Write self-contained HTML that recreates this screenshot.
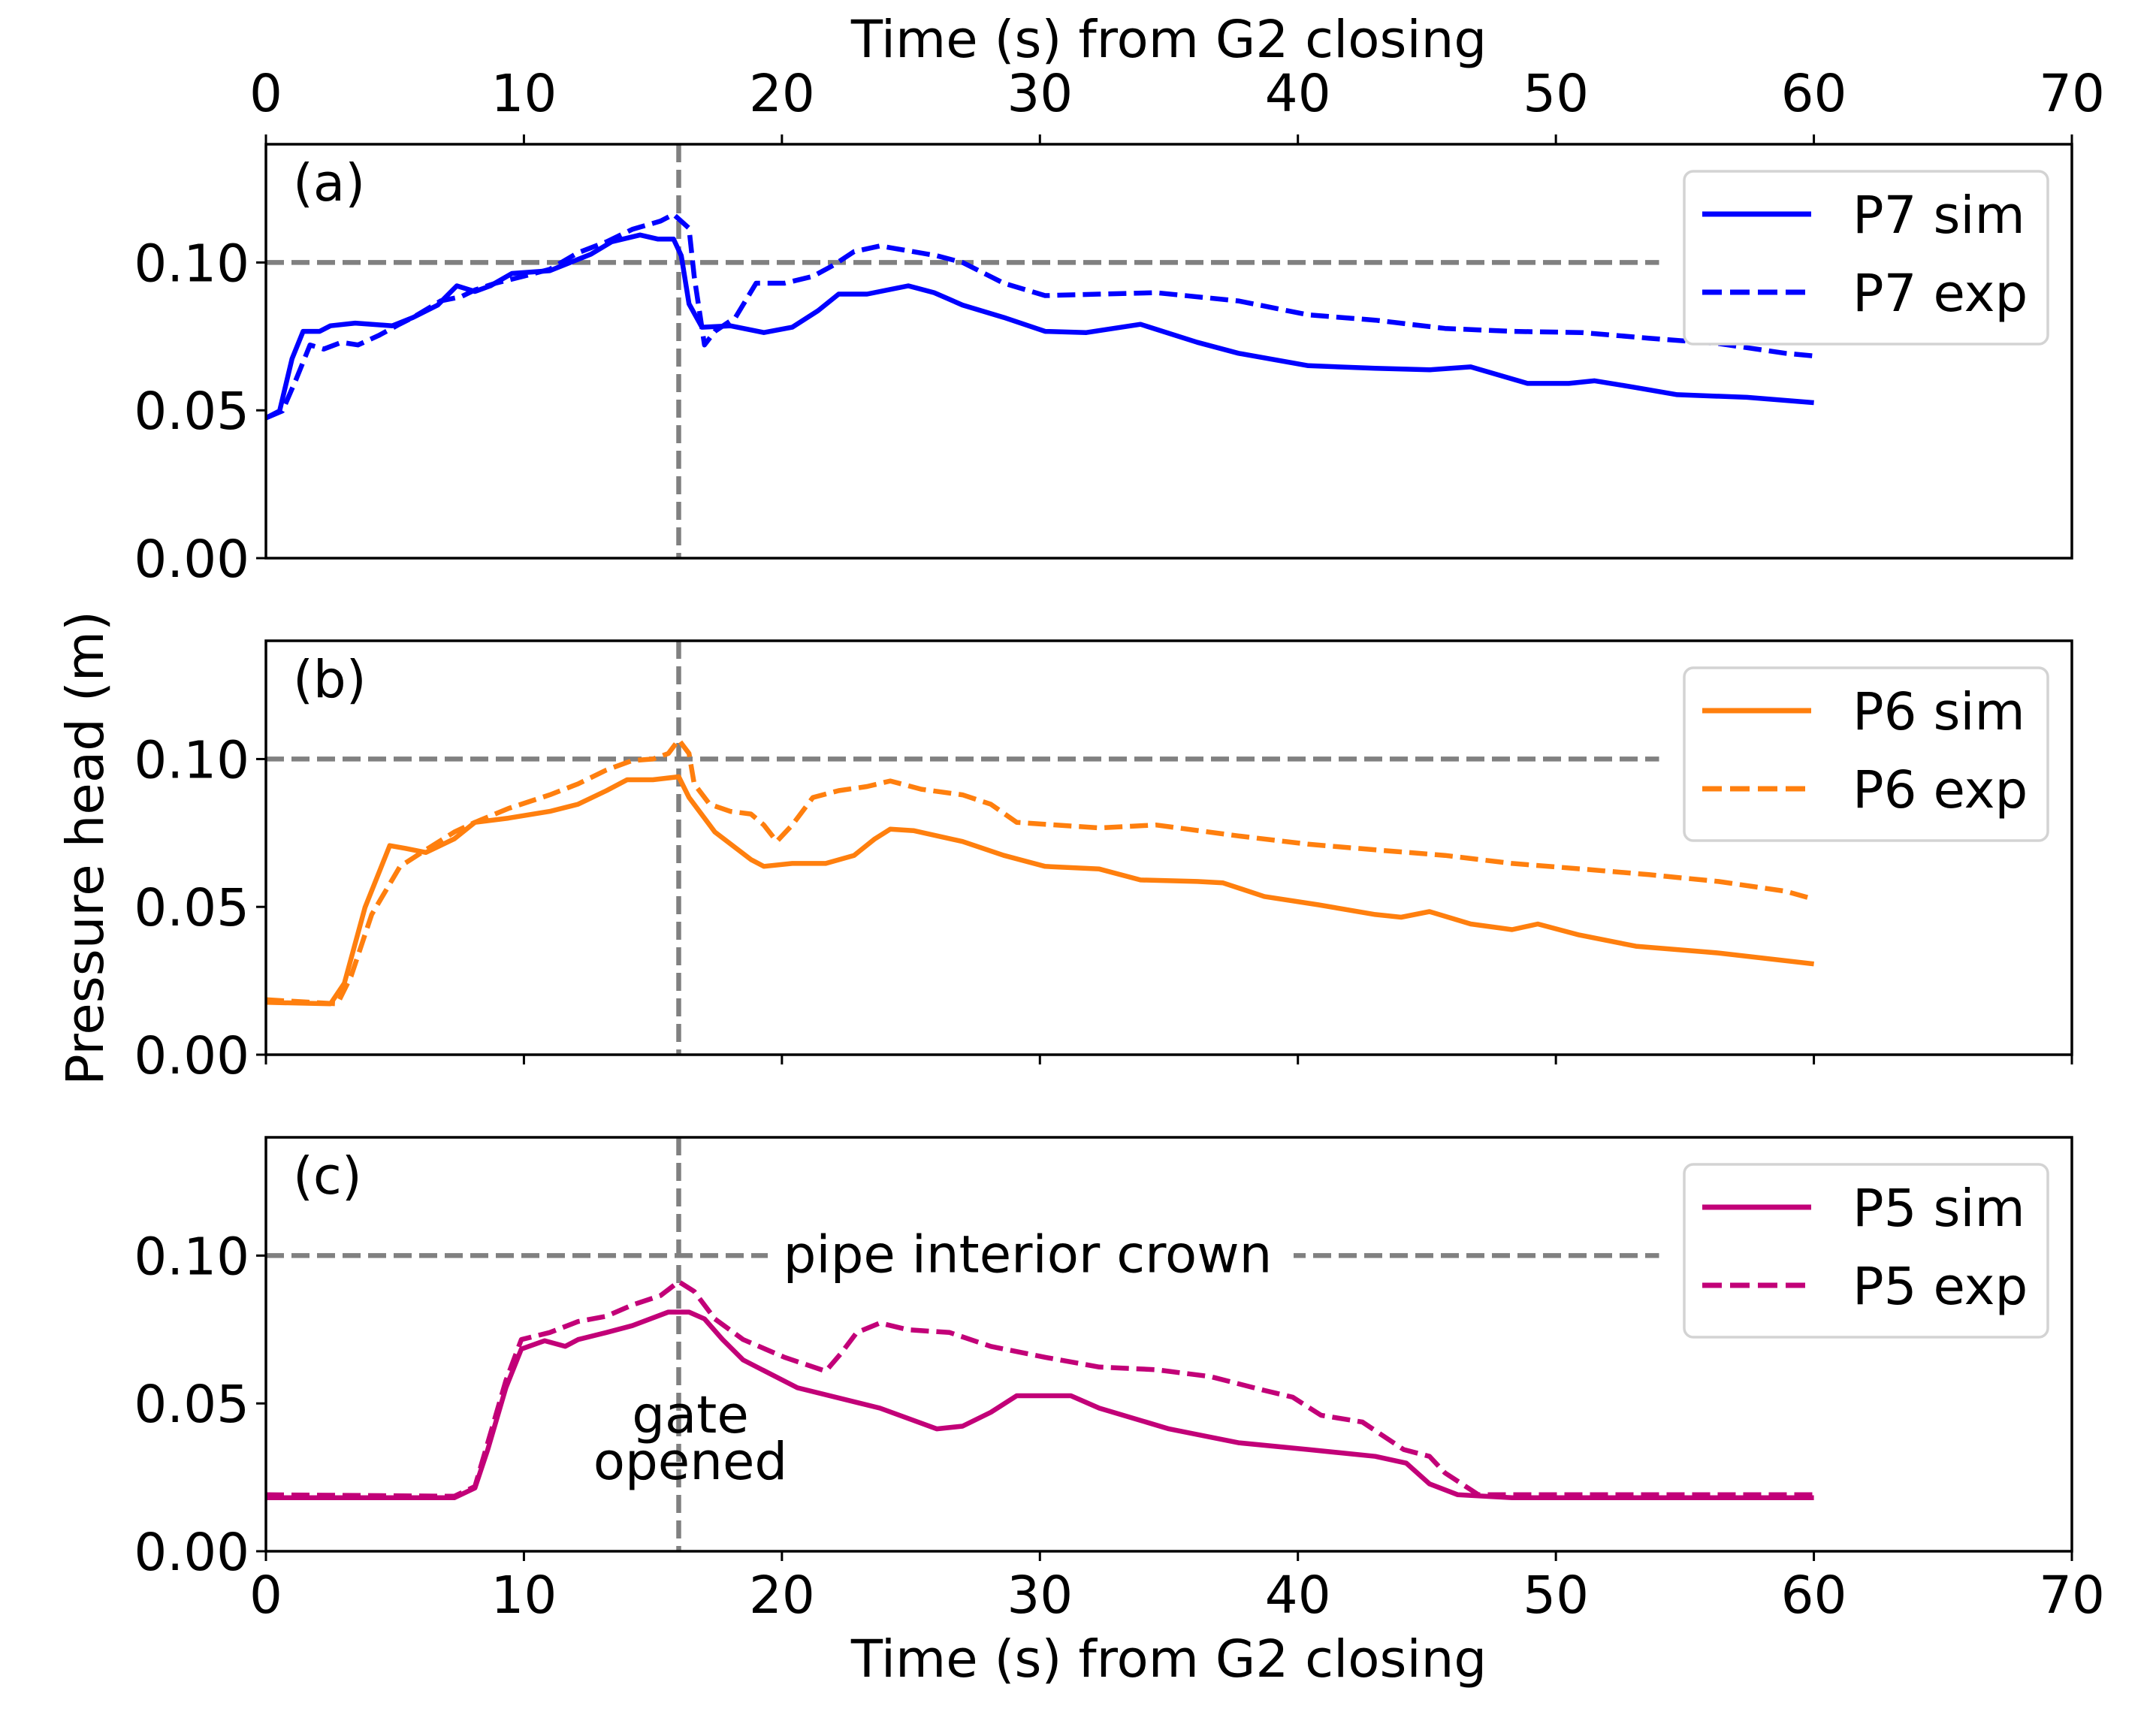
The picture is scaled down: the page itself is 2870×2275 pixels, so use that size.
<!DOCTYPE html>
<html><head><meta charset="utf-8"><style>
body{margin:0;background:#fff}
svg{display:block;font-family:"DejaVu Sans","Liberation Sans",sans-serif}
</style></head><body>
<svg id="chart" width="2870" height="2275" viewBox="0 0 2870 2275" xmlns="http://www.w3.org/2000/svg"></svg>
<script>
const xTicks=[0,10,20,30,40,50,60,70];
const yTicks=[0,0.05,0.10];
const yTickLabels=["0.00","0.05","0.10"];
const gateTime=16;
const crownLevel=0.10;
const crownEnd=54;
const p7SimT=[0,0.53,1.01,1.44,2.08,2.5,3.46,4.9,5.7,6.66,7.4,8.1,8.7,9.54,11.0,12.6,13.4,14.5,15.2,15.8,16.1,16.4,16.9,18.0,19.3,20.4,21.4,22.2,23.3,24.9,25.9,27.0,28.6,30.2,31.8,33.9,36.1,37.7,40.4,43.0,45.1,46.7,48.9,50.5,51.5,53.1,54.7,57.4,60];
const p7SimV=[0.0474,0.0498,0.0674,0.0767,0.0767,0.0786,0.0795,0.0786,0.0814,0.0856,0.0921,0.0902,0.0921,0.0963,0.0972,0.1028,0.107,0.1093,0.1079,0.1079,0.1023,0.0860,0.0781,0.0786,0.0763,0.0781,0.0837,0.0893,0.0893,0.0921,0.0898,0.0856,0.0814,0.0767,0.0763,0.0791,0.0730,0.0693,0.0651,0.0642,0.0637,0.0647,0.0591,0.0591,0.0600,0.0577,0.0553,0.0544,0.0526];
const p7ExpT=[0,0.64,1.17,1.71,2.24,2.93,3.57,4.37,5.17,5.7,6.77,7.56,8.1,8.9,9.97,11.0,12.1,13.2,14.2,15.3,15.8,16.4,16.6,17.0,17.4,18.2,19.0,20.1,21.2,22.0,22.8,23.8,24.4,26.0,27.0,28.6,30.2,32.3,34.5,37.7,40.4,43.0,45.7,48.3,51.0,53.6,56.3,58.9,60];
const p7ExpV=[0.0474,0.0498,0.0605,0.0721,0.0707,0.0730,0.0721,0.0753,0.0791,0.0814,0.0870,0.0884,0.0907,0.093,0.0953,0.0977,0.1033,0.107,0.1112,0.114,0.1163,0.1116,0.0953,0.0721,0.0767,0.0814,0.093,0.093,0.0953,0.0991,0.1037,0.1056,0.1047,0.1023,0.1,0.093,0.0888,0.0893,0.0898,0.0870,0.0823,0.0805,0.0777,0.0767,0.0763,0.0744,0.0726,0.0693,0.0684];
const p6SimT=[0,2.5,3.04,3.84,4.8,5.4,6.2,7.3,8.1,9.4,11.0,12.1,13.2,14.0,15.0,16.0,16.4,17.4,18.8,19.3,20.4,21.7,22.8,23.6,24.2,25.1,27.0,28.6,30.2,32.3,33.9,36.1,37.1,38.7,40.8,43.0,44.0,45.1,46.7,48.3,49.3,50.9,53.1,56.3,60];
const p6SimV=[0.0177,0.0172,0.0242,0.0498,0.0707,0.0698,0.0684,0.0730,0.0786,0.08,0.0823,0.0847,0.0893,0.0930,0.093,0.0940,0.0870,0.0753,0.066,0.0637,0.0647,0.0647,0.0674,0.0730,0.0763,0.0758,0.0721,0.0674,0.0637,0.0628,0.0591,0.0586,0.0581,0.0535,0.0507,0.0474,0.0465,0.0484,0.0442,0.0423,0.0442,0.0405,0.0367,0.0344,0.0307];
const p6ExpT=[0,2.77,3.3,4.1,5.2,6.2,7.3,8.1,9.4,11.0,12.1,13.2,14.2,15.0,15.6,16.0,16.4,16.6,17.2,18.0,18.8,19.3,19.8,20.4,21.2,22.2,23.3,24.2,25.4,27.0,28.1,29.1,32.3,34.5,37.7,40.4,43.0,45.7,48.3,51.0,53.6,56.3,58.9,60];
const p6ExpV=[0.0186,0.0172,0.0265,0.0474,0.0637,0.0693,0.0753,0.0786,0.0833,0.0879,0.0916,0.0963,0.0995,0.1,0.1019,0.1065,0.1019,0.0916,0.0847,0.0823,0.0814,0.0777,0.0721,0.0777,0.0870,0.0893,0.0907,0.0926,0.0898,0.0879,0.0847,0.0786,0.0767,0.0777,0.0740,0.0712,0.0693,0.0674,0.0647,0.0628,0.0609,0.0586,0.0553,0.0526];
const p5SimT=[0,7.3,8.1,8.6,9.3,9.9,10.8,11.6,12.1,13.2,14.2,15.6,16.4,17.0,17.7,18.5,20.6,23.8,26.0,27.0,28.1,29.1,31.2,32.3,35.0,37.7,40.4,43.0,44.2,45.1,46.2,48.3,60];
const p5SimV=[0.0181,0.0181,0.0214,0.0344,0.0553,0.0684,0.0712,0.0693,0.0716,0.0740,0.0763,0.0809,0.0809,0.0786,0.0716,0.0647,0.0553,0.0484,0.0414,0.0423,0.0470,0.0526,0.0526,0.0484,0.0414,0.0367,0.0344,0.0321,0.0298,0.0228,0.0191,0.0181,0.0181];
const p5ExpT=[0,7.3,8.1,8.6,9.3,9.9,11.0,12.1,13.2,14.2,15.3,16.0,16.6,17.4,18.5,20.1,21.7,22.3,22.9,23.8,24.9,26.5,28.1,30.2,32.3,34.5,36.6,38.7,39.8,40.9,42.5,44.1,45.1,45.7,47.0,48.3,60];
const p5ExpV=[0.0191,0.0186,0.0219,0.0367,0.0577,0.0716,0.0740,0.0777,0.0795,0.0833,0.0865,0.0912,0.0879,0.0786,0.0716,0.0656,0.0609,0.0670,0.0740,0.0772,0.0749,0.0740,0.0693,0.0656,0.0623,0.0614,0.0591,0.0544,0.0521,0.0460,0.0437,0.0344,0.0321,0.0265,0.0191,0.0191,0.0191];

const NS="http://www.w3.org/2000/svg";
const svg=document.getElementById('chart');
const L=354,R=2758,XMAX=70,YMAX=0.14,PH=551;
const xs=t=>L+(R-L)*t/XMAX;
function mk(tag,attrs,parent){const e=document.createElementNS(NS,tag);for(const k in attrs)e.setAttribute(k,attrs[k]);(parent||svg).appendChild(e);return e;}
function txt(s,x,y,anchor,size,parent){const e=mk('text',{x:x,y:y,'text-anchor':anchor,'font-size':size,fill:'#000'},parent);e.textContent=s;return e;}
const FS=69;
const GRAYW=6.5, GRAYDASH='24 10';
const panels=[
 {top:192,label:'(a)',color:'#0000ff',simT:p7SimT,simV:p7SimV,expT:p7ExpT,expV:p7ExpV,names:['P7 sim','P7 exp'],key:'a'},
 {top:853,label:'(b)',color:'#ff7f0e',simT:p6SimT,simV:p6SimV,expT:p6ExpT,expV:p6ExpV,names:['P6 sim','P6 exp'],key:'b'},
 {top:1514,label:'(c)',color:'#c20078',simT:p5SimT,simV:p5SimV,expT:p5ExpT,expV:p5ExpV,names:['P5 sim','P5 exp'],key:'c'}
];
panels.forEach((p,i)=>{
 const bot=p.top+PH;
 const ys=v=>bot-PH*v/YMAX;
 const g=mk('g',{});
 
 
 const cl=mk('line',{x1:xs(0),x2:xs(crownEnd),y1:ys(crownLevel),y2:ys(crownLevel),stroke:'#808080','stroke-width':GRAYW,'stroke-dasharray':GRAYDASH},g);
 
 
 if(i===2){
  mk('rect',{x:1022,y:ys(crownLevel)-42,width:700,height:84,fill:'#fff'},g);
  const ct=txt('pipe interior crown',1368,ys(crownLevel)+22,'middle',FS,g);
  
  
 }
 const gl=mk('line',{x1:xs(gateTime),x2:xs(gateTime),y1:p.top,y2:bot,stroke:'#808080','stroke-width':GRAYW,'stroke-dasharray':GRAYDASH},g);
 
 
 const line=(T,V,dash,nm)=>{
  const d=T.map((t,k)=>(k?'L':'M')+xs(t).toFixed(1)+','+ys(V[k]).toFixed(1)).join('');
  const pa=mk('path',{d:d,fill:'none',stroke:p.color,'stroke-width':6.5,'stroke-linejoin':'round','stroke-dasharray':dash?'24 10':'none'},g);
  
  
 };
 line(p.simT,p.simV,false,p.names[0].replace(' ','-').toLowerCase()+'-line');
 line(p.expT,p.expV,true,p.names[1].replace(' ','-').toLowerCase()+'-line');
 const fr=mk('rect',{x:L,y:p.top,width:R-L,height:PH,fill:'none',stroke:'#000','stroke-width':3.5},g);
 
 
 yTicks.forEach((v,k)=>{
  mk('line',{x1:L-13,x2:L,y1:ys(v),y2:ys(v),stroke:'#000','stroke-width':3},g);
  const t=txt(yTickLabels[k],L-22,ys(v)+25,'end',FS,g);
  
  
 });
 xTicks.forEach(v=>{
  if(i===0){
   mk('line',{x1:xs(v),x2:xs(v),y1:p.top-13,y2:p.top,stroke:'#000','stroke-width':3},g);
   const t=txt(String(v),xs(v),p.top-44,'middle',FS,g);
   
   
  } else {
   mk('line',{x1:xs(v),x2:xs(v),y1:bot,y2:bot+13,stroke:'#000','stroke-width':3},g);
   if(i===2){
    const t=txt(String(v),xs(v),bot+82,'middle',FS,g);
    
    
   }
  }
 });
 const pl=txt(p.label,390,p.top+75,'start',FS,g);
 
 
 const lg=mk('g',{},g);
 
 
 mk('rect',{x:2242,y:p.top+36,width:484,height:230,rx:12,fill:'#fff',stroke:'#d3d3d3','stroke-width':3.5},lg);
 [0,1].forEach(k=>{
  const yy=p.top+93+k*104;
  const le=mk('line',{x1:2266,x2:2411,y1:yy,y2:yy,stroke:p.color,'stroke-width':7,'stroke-dasharray':k?'26 11':'none'},lg);
  
  
  const lt=txt(p.names[k],2466,yy+25,'start',69,lg);
  
  
 });
});
const g1=txt('gate',919,1907,'middle',FS);


const g2=txt('opened',919,1969,'middle',FS);


const tt=txt('Time (s) from G2 closing',1556,76,'middle',FS);


const bt=txt('Time (s) from G2 closing',1556,2232,'middle',FS);


const yt=txt('Pressure head (m)',0,0,'middle',FS);
yt.setAttribute('transform','translate(137,1129) rotate(-90)');


</script>
</body></html>
